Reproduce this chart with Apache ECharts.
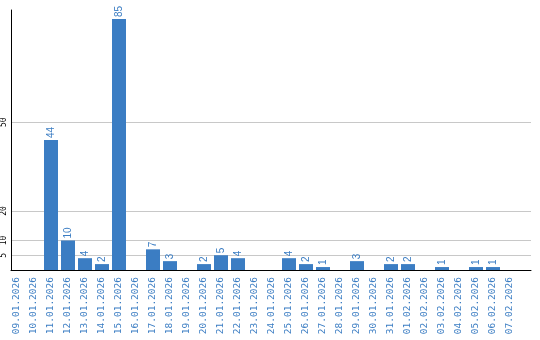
<!DOCTYPE html>
<html><head><meta charset="utf-8">
<script src="https://cdn.jsdelivr.net/npm/echarts@6/dist/echarts.min.js"></script>
<style>html,body{margin:0;padding:0;background:#fff}#c{width:540px;height:340px}</style>
</head><body><div id="c"></div>
<script>
const categories = ['09.01.2026','10.01.2026','11.01.2026','12.01.2026','13.01.2026','14.01.2026','15.01.2026','16.01.2026','17.01.2026','18.01.2026','19.01.2026','20.01.2026','21.01.2026','22.01.2026','23.01.2026','24.01.2026','25.01.2026','26.01.2026','27.01.2026','28.01.2026','29.01.2026','30.01.2026','31.01.2026','01.02.2026','02.02.2026','03.02.2026','04.02.2026','05.02.2026','06.02.2026','07.02.2026'];
const values = [0,0,44,10,4,2,85,0,7,3,0,2,5,4,0,0,4,2,1,0,3,0,2,2,0,1,0,1,1,0];
const yTicks = [5,10,20,50];

const blue = '#3b7dc3';
const chart = echarts.init(document.getElementById('c'));
chart.setOption({
  animation: false,
  grid: [
    {left: 8.5, right: 21.5, top: 19, bottom: 70},
    {left: 10, right: 9, top: 10, bottom: 70}
  ],
  xAxis: [
    {type: 'category', data: categories, gridIndex: 0,
     axisLine: {show: false}, axisTick: {show: false}, splitLine: {show: false},
     axisLabel: {rotate: 90, interval: 0, color: blue, fontFamily: 'DejaVu Sans Mono', fontSize: 9.5, margin: 7}},
    {type: 'value', gridIndex: 1, min: 0, max: 1,
     axisLine: {show: true, onZero: false, lineStyle: {color: '#000', width: 1}},
     axisTick: {show: false}, axisLabel: {show: false}, splitLine: {show: false}}
  ],
  yAxis: [
    {type: 'value', gridIndex: 0, min: 0, max: 85, show: false, splitLine: {show: false}},
    {type: 'value', gridIndex: 1, min: 0, max: 88,
     axisLine: {show: true, lineStyle: {color: '#000', width: 1}},
     axisTick: {show: false, customValues: yTicks},
     axisLabel: {customValues: yTicks, rotate: 90, color: '#000', fontFamily: 'DejaVu Sans Mono', fontSize: 8, margin: 3},
     splitLine: {show: true, lineStyle: {color: '#c8c8c8', width: 1}}}
  ],
  series: [{
    type: 'bar', data: values, xAxisIndex: 0, yAxisIndex: 0, barWidth: 14,
    itemStyle: {color: blue},
    label: {show: true, position: 'top', rotate: 90, align: 'left', verticalAlign: 'middle', distance: 2,
            color: blue, fontSize: 10, fontFamily: 'Liberation Sans',
            formatter: p => p.value ? String(p.value) : ''}
  }]
});
</script>
</body></html>
